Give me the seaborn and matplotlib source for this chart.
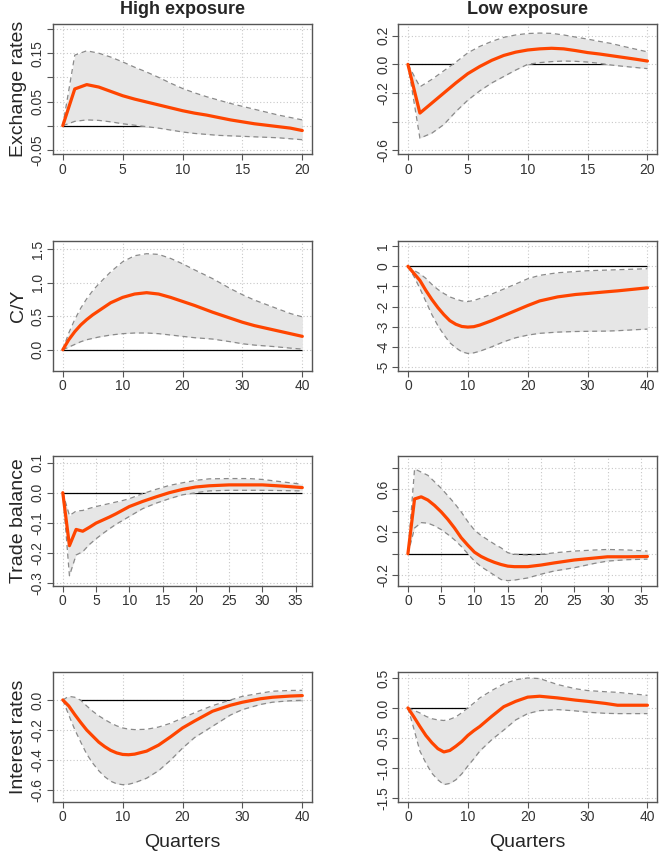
import matplotlib
matplotlib.use("Agg")
import matplotlib.pyplot as plt
import seaborn as sns

# ---------------- data ----------------
# Exchange rates, high exposure
ex_hi_q = list(range(0, 21))
ex_hi_mid = [0, 0.076, 0.085, 0.080, 0.071, 0.062, 0.055, 0.049, 0.043, 0.037, 0.031,
             0.026, 0.022, 0.017, 0.012, 0.008, 0.004, 0.001, -0.002, -0.005, -0.010]
ex_hi_up = [0, 0.146, 0.155, 0.150, 0.142, 0.132, 0.121, 0.111, 0.100, 0.088, 0.077,
            0.068, 0.060, 0.053, 0.046, 0.040, 0.034, 0.028, 0.022, 0.017, 0.012]
ex_hi_lo = [0, 0.009, 0.012, 0.011, 0.008, 0.004, 0.001, -0.002, -0.005, -0.009, -0.013,
            -0.016, -0.018, -0.020, -0.021, -0.022, -0.023, -0.024, -0.025, -0.027, -0.029]

# Exchange rates, low exposure
ex_lo_q = list(range(0, 21))
ex_lo_mid = [0, -0.34, -0.27, -0.20, -0.13, -0.065, -0.015, 0.028, 0.062, 0.085, 0.100,
             0.108, 0.112, 0.108, 0.096, 0.082, 0.072, 0.060, 0.048, 0.036, 0.023]
ex_lo_up = [0, -0.157, -0.105, -0.045, 0.015, 0.080, 0.125, 0.160, 0.188, 0.205, 0.215,
            0.218, 0.216, 0.205, 0.190, 0.176, 0.160, 0.145, 0.125, 0.106, 0.087]
ex_lo_lo = [0, -0.515, -0.48, -0.42, -0.33, -0.25, -0.185, -0.130, -0.085, -0.040, 0.000,
            0.012, 0.019, 0.023, 0.021, 0.016, 0.007, -0.005, -0.014, -0.022, -0.030]

# C/Y, high exposure
cy_hi_q = [0, 1, 2, 3, 4, 5, 6, 8, 10, 12, 14, 16, 18, 20, 22, 25, 28, 30, 32, 35, 38, 40]
cy_hi_mid = [0, 0.15, 0.27, 0.37, 0.45, 0.52, 0.58, 0.70, 0.78, 0.83, 0.85, 0.83, 0.78,
             0.72, 0.66, 0.56, 0.47, 0.41, 0.36, 0.30, 0.24, 0.20]
cy_hi_up = [0, 0.25, 0.45, 0.62, 0.76, 0.88, 0.98, 1.16, 1.31, 1.40, 1.43, 1.42, 1.36,
            1.28, 1.19, 1.06, 0.91, 0.82, 0.74, 0.64, 0.54, 0.49]
cy_hi_lo = [0, 0.04, 0.08, 0.12, 0.15, 0.17, 0.19, 0.22, 0.24, 0.25, 0.25, 0.24, 0.22,
            0.20, 0.18, 0.16, 0.12, 0.09, 0.07, 0.05, 0.025, 0.01]

# C/Y, low exposure
cy_lo_q = [0, 1, 2, 3, 4, 5, 6, 7, 8, 9, 10, 11, 12, 14, 16, 18, 20, 22, 25, 28, 30, 33, 35, 38, 40]
cy_lo_mid = [0, -0.35, -0.7, -1.2, -1.65, -2.05, -2.4, -2.7, -2.88, -2.99, -3.02, -3.0,
             -2.92, -2.7, -2.45, -2.2, -1.95, -1.72, -1.52, -1.4, -1.35, -1.27, -1.22, -1.13, -1.07]
cy_lo_up = [0, -0.2, -0.37, -0.6, -0.9, -1.15, -1.35, -1.52, -1.63, -1.72, -1.75, -1.7,
            -1.6, -1.38, -1.13, -0.88, -0.62, -0.45, -0.32, -0.26, -0.22, -0.19, -0.17, -0.14, -0.12]
cy_lo_lo = [0, -0.5, -1.1, -1.75, -2.4, -2.95, -3.4, -3.8, -4.05, -4.25, -4.33, -4.3,
            -4.22, -4.0, -3.75, -3.55, -3.42, -3.33, -3.27, -3.24, -3.23, -3.22, -3.2, -3.15, -3.12]

# Trade balance, high exposure
tb_hi_q = [0, 1, 2, 3, 4, 5, 6, 7, 8, 9, 10, 12, 14, 16, 18, 20, 22, 25, 28, 30, 33, 36]
tb_hi_mid = [0, -0.176, -0.122, -0.128, -0.115, -0.101, -0.091, -0.081, -0.070, -0.058,
             -0.046, -0.029, -0.014, 0.000, 0.011, 0.019, 0.023, 0.026, 0.026, 0.026, 0.022, 0.017]
tb_hi_up = [0, -0.076, -0.061, -0.059, -0.052, -0.046, -0.041, -0.036, -0.031, -0.026,
            -0.020, -0.003, 0.011, 0.024, 0.033, 0.041, 0.046, 0.047, 0.047, 0.044, 0.036, 0.028]
tb_hi_lo = [0, -0.276, -0.207, -0.196, -0.172, -0.153, -0.136, -0.120, -0.105, -0.092,
            -0.079, -0.053, -0.035, -0.020, -0.007, 0.000, 0.006, 0.008, 0.008, 0.008, 0.007, 0.006]

# Trade balance, low exposure
tb_lo_q = [0, 1, 2, 3, 4, 5, 6, 7, 8, 9, 10, 11, 12, 13, 14, 15, 16, 18, 20, 22, 25, 28, 30, 33, 36]
tb_lo_mid = [0, 0.51, 0.53, 0.50, 0.45, 0.39, 0.32, 0.24, 0.15, 0.08, 0.015, -0.025, -0.055,
             -0.08, -0.10, -0.115, -0.12, -0.12, -0.105, -0.085, -0.058, -0.04, -0.028, -0.028, -0.025]
tb_lo_up = [0, 0.79, 0.76, 0.73, 0.67, 0.61, 0.54, 0.47, 0.39, 0.30, 0.22, 0.17, 0.13,
            0.09, 0.055, 0.01, -0.005, -0.012, -0.006, 0.009, 0.025, 0.035, 0.04, 0.035, 0.025]
tb_lo_lo = [0, 0.24, 0.29, 0.285, 0.26, 0.225, 0.18, 0.13, 0.07, 0.00, -0.068, -0.12, -0.16,
            -0.2, -0.24, -0.25, -0.245, -0.225, -0.19, -0.16, -0.13, -0.09, -0.068, -0.055, -0.05]

# Interest rates, high exposure
ir_hi_q = [0, 1, 2, 3, 4, 5, 6, 7, 8, 9, 10, 11, 12, 14, 16, 18, 20, 22, 25, 28, 30, 33, 35, 38, 40]
ir_hi_mid = [0, -0.04, -0.097, -0.15, -0.2, -0.24, -0.28, -0.31, -0.335, -0.352, -0.362,
             -0.364, -0.36, -0.34, -0.30, -0.245, -0.186, -0.14, -0.075, -0.035, -0.015,
             0.008, 0.018, 0.026, 0.029]
ir_hi_up = [0, 0.024, 0.018, -0.002, -0.04, -0.075, -0.105, -0.13, -0.153, -0.172, -0.186,
            -0.194, -0.197, -0.195, -0.18, -0.155, -0.12, -0.085, -0.038, 0.0, 0.024,
            0.045, 0.058, 0.063, 0.064]
ir_hi_lo = [0, -0.1, -0.197, -0.28, -0.36, -0.42, -0.47, -0.51, -0.54, -0.557, -0.563,
            -0.56, -0.55, -0.52, -0.47, -0.40, -0.32, -0.25, -0.175, -0.10, -0.064,
            -0.03, -0.015, -0.005, -0.002]

# Interest rates, low exposure
ir_lo_q = [0, 1, 2, 3, 4, 5, 6, 7, 8, 9, 10, 11, 12, 14, 16, 18, 20, 22, 25, 28, 30, 33, 35, 38, 40]
ir_lo_mid = [0, -0.15, -0.31, -0.46, -0.58, -0.68, -0.735, -0.71, -0.64, -0.56, -0.46,
             -0.38, -0.31, -0.14, 0.02, 0.11, 0.18, 0.195, 0.167, 0.13, 0.11, 0.075,
             0.045, 0.045, 0.045]
ir_lo_up = [0, -0.04, -0.084, -0.14, -0.18, -0.2, -0.21, -0.19, -0.15, -0.08, 0.0, 0.08,
            0.167, 0.29, 0.40, 0.47, 0.50, 0.49, 0.39, 0.32, 0.29, 0.27, 0.26, 0.23, 0.21]
ir_lo_lo = [0, -0.35, -0.72, -0.92, -1.09, -1.2, -1.28, -1.26, -1.2, -1.1, -0.97, -0.85,
            -0.72, -0.53, -0.37, -0.2, -0.095, -0.045, -0.028, -0.05, -0.072, -0.09,
            -0.095, -0.095, -0.095]

col_titles = ["High exposure", "Low exposure"]
row_labels = ["Exchange rates", "C/Y", "Trade balance", "Interest rates"]
x_label = "Quarters"

# tick values / labels per panel
ex_hi_yt = [-0.05, 0.0, 0.05, 0.10, 0.15, 0.20]
ex_hi_yl = ["-0.05", "", "0.05", "", "0.15", ""]
ex_lo_yt = [-0.6, -0.4, -0.2, 0.0, 0.2]
ex_lo_yl = ["-0.6", "", "-0.2", "0.0", "0.2"]
cy_hi_yt = [0.0, 0.5, 1.0, 1.5]
cy_hi_yl = ["0.0", "0.5", "1.0", "1.5"]
cy_lo_yt = [-5, -4, -3, -2, -1, 0, 1]
cy_lo_yl = ["-5", "-4", "-3", "-2", "-1", "0", "1"]
tb_hi_yt = [-0.3, -0.2, -0.1, 0.0, 0.1]
tb_hi_yl = ["-0.3", "-0.2", "-0.1", "0.0", "0.1"]
tb_lo_yt = [-0.2, 0.0, 0.2, 0.4, 0.6, 0.8]
tb_lo_yl = ["-0.2", "", "0.2", "", "0.6", ""]
ir_hi_yt = [-0.6, -0.4, -0.2, 0.0]
ir_hi_yl = ["-0.6", "-0.4", "-0.2", "0.0"]
ir_lo_yt = [-1.5, -1.0, -0.5, 0.0, 0.5]
ir_lo_yl = ["-1.5", "-1.0", "-0.5", "0.0", "0.5"]

xt_20 = [0, 5, 10, 15, 20]
xt_40 = [0, 10, 20, 30, 40]
xt_36 = [0, 5, 10, 15, 20, 25, 30, 35]

# ---------------- figure ----------------
sns.set_theme(style="white")
plt.rcParams['font.family'] = ['Liberation Sans', 'DejaVu Sans']

fig = plt.figure(figsize=(6.65, 8.52), dpi=100)

lefts = [0.080, 0.599]
bottoms = [0.819, 0.5646, 0.3122, 0.0587]
w, h = 0.389, 0.1526

panels = [
    (0, 0, ex_hi_q, ex_hi_mid, ex_hi_up, ex_hi_lo, (-0.059, 0.21), ex_hi_yt, ex_hi_yl, xt_20),
    (0, 1, ex_lo_q, ex_lo_mid, ex_lo_up, ex_lo_lo, (-0.627, 0.28), ex_lo_yt, ex_lo_yl, xt_20),
    (1, 0, cy_hi_q, cy_hi_mid, cy_hi_up, cy_hi_lo, (-0.315, 1.62), cy_hi_yt, cy_hi_yl, xt_40),
    (1, 1, cy_lo_q, cy_lo_mid, cy_lo_up, cy_lo_lo, (-5.2, 1.26), cy_lo_yt, cy_lo_yl, xt_40),
    (2, 0, tb_hi_q, tb_hi_mid, tb_hi_up, tb_hi_lo, (-0.31, 0.122), tb_hi_yt, tb_hi_yl, xt_36),
    (2, 1, tb_lo_q, tb_lo_mid, tb_lo_up, tb_lo_lo, (-0.30, 0.91), tb_lo_yt, tb_lo_yl, xt_36),
    (3, 0, ir_hi_q, ir_hi_mid, ir_hi_up, ir_hi_lo, (-0.678, 0.186), ir_hi_yt, ir_hi_yl, xt_40),
    (3, 1, ir_lo_q, ir_lo_mid, ir_lo_up, ir_lo_lo, (-1.57, 0.60), ir_lo_yt, ir_lo_yl, xt_40),
]

for row, col, q, mid, up, lo, ylim, yt, yl, xt in panels:
    ax = fig.add_axes([lefts[col], bottoms[row], w, h])

    # zero line first, so the band hides it where it overlaps
    ax.hlines(0, q[0], q[-1], color="black", lw=0.9, zorder=1)
    ax.fill_between(q, lo, up, color="#e6e6e6", lw=0, zorder=2)
    sns.lineplot(x=q, y=up, ax=ax, color="#8a8a8a", lw=0.9, linestyle=(0, (4, 3)), zorder=3)
    sns.lineplot(x=q, y=lo, ax=ax, color="#8a8a8a", lw=0.9, linestyle=(0, (4, 3)), zorder=3)
    sns.lineplot(x=q, y=mid, ax=ax, color="#ff4500", lw=2.3, zorder=4)

    pad = 0.04 * (q[-1] - q[0])
    ax.set_xlim(q[0] - pad, q[-1] + pad)
    ax.set_ylim(*ylim)
    ax.set_xticks(xt)
    ax.set_xticklabels([str(v) for v in xt])
    ax.set_yticks(yt)
    ax.set_yticklabels(yl, rotation=90, va="center")

    ax.grid(True, linestyle=(0, (1, 2)), color="#c8c8c8", lw=0.8)
    ax.set_axisbelow(True)
    for s in ax.spines.values():
        s.set_visible(True)
        s.set_color("#555555")
        s.set_linewidth(1.0)
    ax.tick_params(axis="both", direction="out", length=4, width=0.8, color="#555555",
                   labelsize=10, labelcolor="#333333", left=True, bottom=True, pad=2)
    ax.set_xlabel("")
    ax.set_ylabel("")

    if row == 0:
        ax.set_title(col_titles[col], fontsize=13, fontweight="bold", pad=7)
    if col == 0:
        ax.set_ylabel(row_labels[row], fontsize=14)
        ax.yaxis.set_label_coords(-0.10, 0.5)
    if row == 3:
        ax.set_xlabel(x_label, fontsize=14)
        ax.xaxis.set_label_coords(0.5, -0.245)

fig.savefig("out.png", dpi=100)
